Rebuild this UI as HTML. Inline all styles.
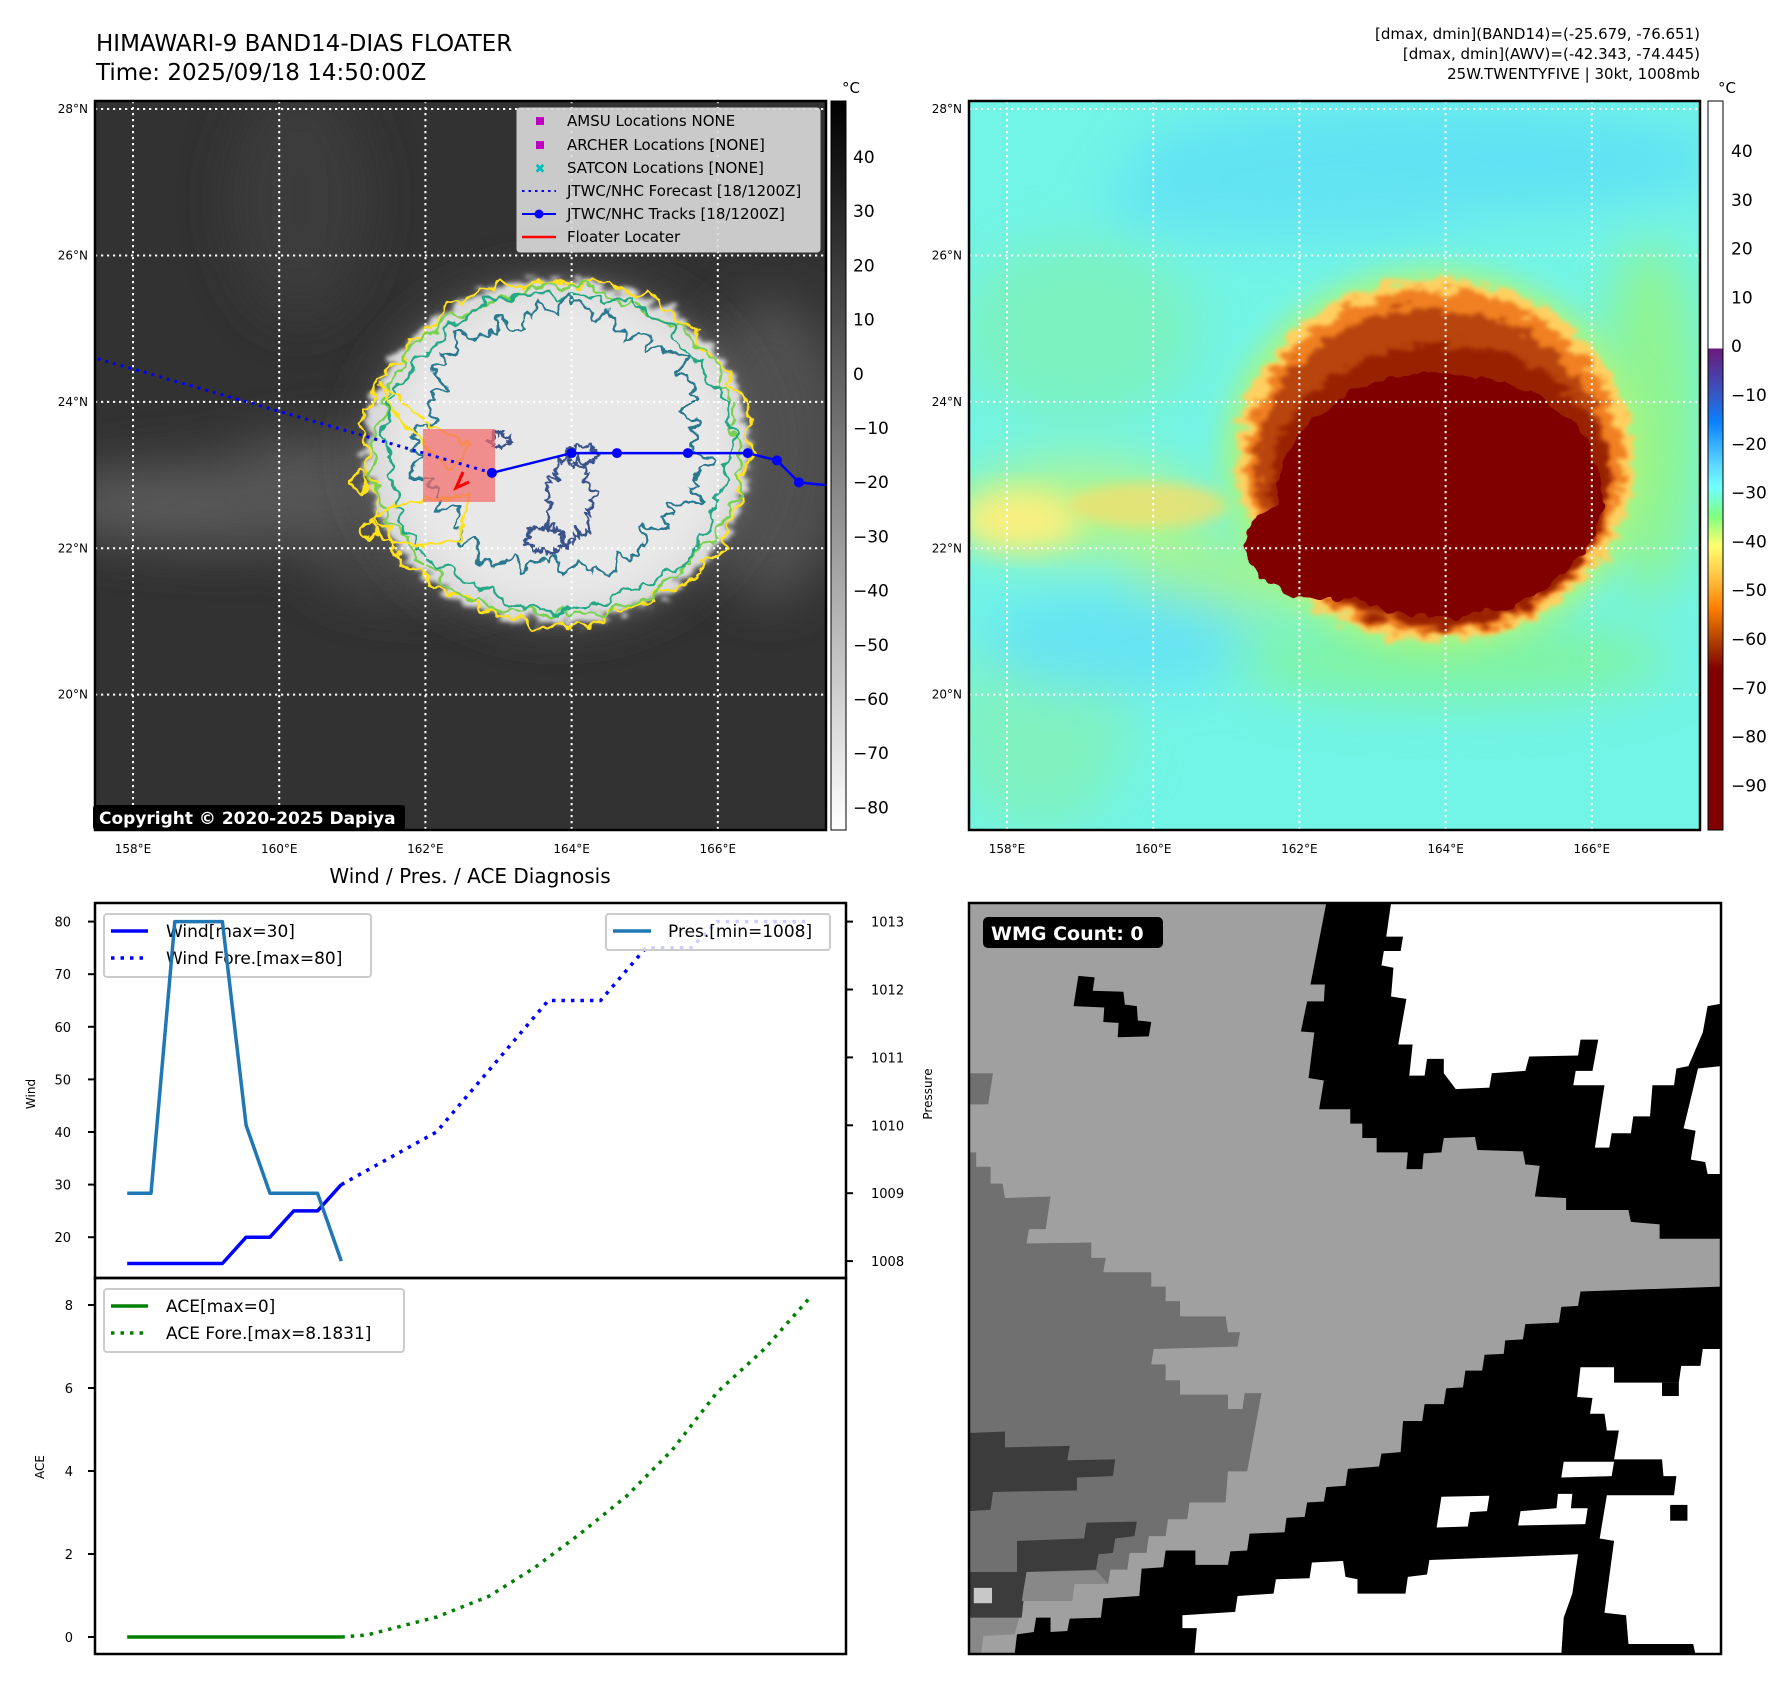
<!DOCTYPE html>
<html><head><meta charset="utf-8">
<style>
html,body{margin:0;padding:0;background:#fff;}
body{width:1788px;height:1690px;position:relative;overflow:hidden;font-family:"Liberation Sans","DejaVu Sans",sans-serif;}
svg text{font-family:"DejaVu Sans","Liberation Sans",sans-serif;}
</style></head>
<body>
<svg id="fig" width="1788" height="1690" viewBox="0 0 1788 1690" xmlns="http://www.w3.org/2000/svg">
<defs>
  <filter id="blur6" x="-20%" y="-20%" width="140%" height="140%"><feGaussianBlur stdDeviation="6"/></filter>
  <filter id="blur14" x="-30%" y="-30%" width="160%" height="160%"><feGaussianBlur stdDeviation="14"/></filter>
  <filter id="blur25" x="-40%" y="-40%" width="180%" height="180%"><feGaussianBlur stdDeviation="25"/></filter>
  <filter id="rag" x="-10%" y="-10%" width="120%" height="120%">
    <feTurbulence type="fractalNoise" baseFrequency="0.06" numOctaves="2" seed="3"/>
    <feDisplacementMap in="SourceGraphic" scale="14" xChannelSelector="R" yChannelSelector="G"/>
  </filter>
  <filter id="rag2" x="-10%" y="-10%" width="120%" height="120%">
    <feTurbulence type="fractalNoise" baseFrequency="0.09" numOctaves="2" seed="7"/>
    <feDisplacementMap in="SourceGraphic" scale="10" xChannelSelector="R" yChannelSelector="G"/>
  </filter>
  <filter id="ragblur" x="-20%" y="-20%" width="140%" height="140%">
    <feTurbulence type="fractalNoise" baseFrequency="0.05 0.12" numOctaves="3" seed="5"/>
    <feDisplacementMap in="SourceGraphic" scale="30" xChannelSelector="R" yChannelSelector="G"/>
    <feGaussianBlur stdDeviation="2"/>
  </filter>
  <linearGradient id="cb1" x1="0" y1="0" x2="0" y2="1">
    <stop offset="0" stop-color="#000"/><stop offset="1" stop-color="#fff"/>
  </linearGradient>
  <linearGradient id="cb2" x1="0" y1="0" x2="0" y2="1">
    <stop offset="0" stop-color="#fff"/><stop offset="0.3395" stop-color="#fff"/>
    <stop offset="0.3396" stop-color="#6a1a78"/>
    <stop offset="0.41" stop-color="#2f5fd0"/>
    <stop offset="0.44" stop-color="#0a80ff"/>
    <stop offset="0.50" stop-color="#60d8ff"/>
    <stop offset="0.53" stop-color="#70ffff"/>
    <stop offset="0.57" stop-color="#80ff80"/>
    <stop offset="0.61" stop-color="#ffff70"/>
    <stop offset="0.655" stop-color="#ffc040"/>
    <stop offset="0.695" stop-color="#ff8000"/>
    <stop offset="0.74" stop-color="#b04000"/>
    <stop offset="0.78" stop-color="#800000"/>
    <stop offset="1" stop-color="#800000"/>
  </linearGradient>
  <radialGradient id="halo1" cx="0.5" cy="0.5" r="0.5">
    <stop offset="0.55" stop-color="#8a8a8a"/><stop offset="1" stop-color="#333" stop-opacity="0"/>
  </radialGradient>
  <clipPath id="clipM1"><rect x="95" y="101" width="731" height="729"/></clipPath>
  <clipPath id="clipM2"><rect x="969" y="101" width="731" height="729"/></clipPath>
  <clipPath id="clipC1"><rect x="95" y="903" width="751" height="375"/></clipPath>
  <clipPath id="clipC2"><rect x="95" y="1278" width="751" height="376"/></clipPath>
  <clipPath id="clipW"><rect x="969" y="903" width="752" height="751"/></clipPath>
</defs>

<text x="96" y="51" font-size="23">HIMAWARI-9 BAND14-DIAS FLOATER</text>
<text x="96" y="80" font-size="23">Time: 2025/09/18 14:50:00Z</text>
<g font-size="15" text-anchor="end">
  <text x="1700" y="39">[dmax, dmin](BAND14)=(-25.679, -76.651)</text>
  <text x="1700" y="59">[dmax, dmin](AWV)=(-42.343, -74.445)</text>
  <text x="1700" y="79">25W.TWENTYFIVE | 30kt, 1008mb</text>
</g>

<!-- MAP 1 -->
<g clip-path="url(#clipM1)">
  <rect x="95" y="101" width="731" height="729" fill="#323232"/>
  <g filter="url(#blur25)" opacity="0.9">
    <ellipse cx="230" cy="505" rx="200" ry="42" fill="#5e5e5e"/>
    <ellipse cx="330" cy="490" rx="130" ry="55" fill="#5a5a5a"/>
    <ellipse cx="420" cy="560" rx="110" ry="40" fill="#4a4a4a"/>
    <ellipse cx="300" cy="200" rx="70" ry="120" fill="#3c3c3c"/>
    <ellipse cx="770" cy="450" rx="80" ry="150" fill="#555"/>
  </g>
  <ellipse cx="560" cy="451" rx="235" ry="210" fill="url(#halo1)" filter="url(#blur14)"/>
  <ellipse cx="557" cy="451" rx="192" ry="172" fill="#d8d8d8" filter="url(#ragblur)"/>
  <ellipse cx="560" cy="451" rx="172" ry="155" fill="#e8e8e8" filter="url(#blur14)"/>
  <g id="contours1" fill="none" stroke-width="2.4" stroke-linejoin="round"></g>
  <g id="grid1" stroke="#fff" stroke-width="2" stroke-dasharray="2.2 3.8"></g>
  <rect x="423" y="429" width="72" height="73" fill="#f26a6a" fill-opacity="0.72"/>
  <g id="track1"></g>
  <path d="M463,472 L456,488 L469,482" fill="none" stroke="#ff0000" stroke-width="3"/>
</g>
<rect x="95" y="101" width="731" height="729" fill="none" stroke="#000" stroke-width="2.5"/>
<g>
  <rect x="517" y="108" width="303" height="144" rx="3" fill="#dadada" fill-opacity="0.9" stroke="#ccc"/>
  <rect x="536" y="117" width="8" height="8" fill="#c000c0"/>
  <text x="567" y="126" font-size="15">AMSU Locations NONE</text>
  <rect x="536" y="141" width="8" height="8" fill="#c000c0"/>
  <text x="567" y="150" font-size="15">ARCHER Locations [NONE]</text>
  <text x="540" y="173" font-size="13" fill="#00bfbf" text-anchor="middle" font-weight="bold">✖</text>
  <text x="567" y="173" font-size="15">SATCON Locations [NONE]</text>
  <line x1="522" y1="191" x2="556" y2="191" stroke="#0000ff" stroke-width="2" stroke-dasharray="2.5 4"/>
  <text x="567" y="196" font-size="15">JTWC/NHC Forecast [18/1200Z]</text>
  <line x1="522" y1="214" x2="556" y2="214" stroke="#0000ff" stroke-width="2"/>
  <circle cx="539" cy="214" r="4.5" fill="#0000ff"/>
  <text x="567" y="219" font-size="15">JTWC/NHC Tracks [18/1200Z]</text>
  <line x1="522" y1="237" x2="556" y2="237" stroke="#ff0000" stroke-width="2.5"/>
  <text x="567" y="242" font-size="15">Floater Locater</text>
</g>
<g>
  <rect x="93" y="805" width="312" height="25" rx="3" fill="#000"/>
  <text x="99" y="824" font-size="17" font-weight="bold" fill="#fff">Copyright © 2020-2025 Dapiya</text>
</g>
<g id="ticks1" font-size="12"></g>
<g>
  <rect x="831" y="101" width="15" height="729" fill="url(#cb1)" stroke="#000" stroke-width="1"/>
  <text x="842" y="93" font-size="15">°C</text>
  <g id="cb1labels" font-size="17"></g>
</g>

<!-- MAP 2 -->
<g clip-path="url(#clipM2)">
  <rect x="969" y="101" width="731" height="729" fill="#72f4e6"/>
  <g filter="url(#blur25)">
    <ellipse cx="1430" cy="160" rx="300" ry="55" fill="#60e2f4"/>
    <ellipse cx="1300" cy="200" rx="200" ry="40" fill="#64e4f2"/>
    <ellipse cx="1080" cy="330" rx="120" ry="90" fill="#7cf2c0"/>
    <ellipse cx="1080" cy="510" rx="130" ry="50" fill="#b0f590"/>
    <ellipse cx="1040" cy="720" rx="90" ry="110" fill="#80f2c0"/>
    <ellipse cx="1220" cy="580" rx="90" ry="40" fill="#a0f490"/>
    <ellipse cx="1120" cy="640" rx="140" ry="50" fill="#66e4f2"/>
    <ellipse cx="1450" cy="660" rx="220" ry="40" fill="#80f4a0"/>
    <ellipse cx="1650" cy="420" rx="50" ry="180" fill="#90f490"/>
  </g>
  <ellipse cx="1020" cy="520" rx="60" ry="30" fill="#f8f080" filter="url(#blur14)"/>
  <ellipse cx="1150" cy="505" rx="80" ry="22" fill="#f0e070" filter="url(#blur6)" opacity="0.8"/>
  <ellipse cx="1435" cy="460" rx="212" ry="192" fill="#a8f580" filter="url(#blur14)"/>
  <ellipse cx="1435" cy="460" rx="198" ry="182" fill="#ffd060" filter="url(#ragblur)"/>
  <ellipse cx="1435" cy="462" rx="188" ry="172" fill="#f08020" filter="url(#ragblur)"/>
  <ellipse cx="1432" cy="468" rx="176" ry="160" fill="#b84408" filter="url(#ragblur)"/>
  <ellipse cx="1440" cy="485" rx="170" ry="140" fill="#982400" filter="url(#ragblur)"/>
  <ellipse cx="1440" cy="495" rx="162" ry="122" fill="#800000" filter="url(#rag)"/>
  <ellipse cx="1330" cy="545" rx="85" ry="55" fill="#800000" filter="url(#rag)"/>
  <g id="grid2" stroke="#fff" stroke-width="2" stroke-dasharray="2.2 3.8"></g>
</g>
<rect x="969" y="101" width="731" height="729" fill="none" stroke="#000" stroke-width="2.5"/>
<g id="ticks2" font-size="12"></g>
<g>
  <rect x="1708" y="101" width="15" height="729" fill="url(#cb2)" stroke="#000" stroke-width="1"/>
  <text x="1718" y="93" font-size="15">°C</text>
  <g id="cb2labels" font-size="17"></g>
</g>

<text x="470" y="883" font-size="20" text-anchor="middle">Wind / Pres. / ACE Diagnosis</text>
<g id="chart"></g>

<!-- WMG panel -->
<g clip-path="url(#clipW)">
  <g transform="translate(969,903) scale(0.4796)">
    <rect x="0" y="0" width="1568" height="1568" fill="#a0a0a0"/>
    <polygon fill="#707070" points="0,355 50,355 40,420 0,420"/>
    <polygon fill="#707070" points="0,520 15,520 15,550 45,550 45,585 70,585 75,615 170,612 160,680 125,680 120,710 255,708 255,740 285,740 280,770 380,770 380,800 410,800 410,830 440,830 440,862 535,862 540,895 565,895 560,925 385,930 380,962 410,962 410,995 440,995 440,1025 540,1025 540,1055 570,1055 575,1022 610,1022 580,1185 540,1185 535,1250 460,1250 455,1285 415,1285 410,1320 375,1320 370,1355 335,1355 330,1390 295,1390 290,1420 220,1420 215,1455 110,1455 105,1490 0,1490"/>
    <polygon fill="#3c3c3c" points="0,1105 75,1102 75,1135 210,1132 205,1162 305,1160 300,1195 225,1198 225,1225 50,1228 45,1265 0,1268"/>
    <polygon fill="#3c3c3c" points="100,1330 240,1325 245,1292 350,1290 345,1320 305,1325 300,1355 270,1358 265,1390 120,1395 110,1490 0,1495 0,1395 100,1395"/>
    <polygon fill="#888" points="120,1395 265,1392 290,1420 220,1420 215,1455 110,1455"/>
    <polygon fill="#888" points="0,1490 105,1490 95,1525 30,1528 25,1568 0,1568"/>
    <rect x="10" y="1428" width="38" height="32" fill="#c8c8c8"/>
    <polygon fill="#000" points="745,0 1568,0 1568,700 1440,700 1440,670 1380,665 1375,640 1245,640 1245,615 1180,612 1190,548 1160,545 1155,518 1060,515 1055,488 990,490 985,520 948,522 945,555 912,555 915,520 850,520 850,490 820,490 820,460 795,460 795,430 730,430 740,370 708,365 720,270 692,268 705,205 740,205 742,170 712,170"/>
    <polygon fill="#fff" points="880,0 1568,0 1568,210 1540,215 1530,270 1500,340 1475,345 1470,380 1425,380 1420,445 1385,445 1380,480 1340,480 1335,510 1305,510 1325,380 1260,380 1265,350 1300,350 1312,285 1275,285 1270,318 1168,320 1160,350 1090,355 1085,385 1015,388 990,355 990,325 955,325 950,360 918,360 925,295 895,295 912,200 880,195 885,135 860,130 865,100 900,100 905,70 870,70"/>
    <polygon fill="#fff" points="1520,345 1568,340 1568,565 1540,565 1535,540 1505,535 1515,475 1490,470"/>
    <polygon fill="#000" points="228,152 262,155 258,183 322,185 325,212 350,215 352,245 380,248 375,278 310,280 312,250 280,248 282,218 218,215"/>
    <polygon fill="#000" points="1568,800 1275,810 1270,840 1235,842 1230,875 1160,878 1155,910 1118,912 1115,940 1075,942 1070,975 1035,975 1030,1010 995,1012 990,1045 950,1045 945,1080 905,1080 900,1145 860,1148 855,1175 790,1180 785,1215 745,1218 740,1248 705,1250 700,1280 662,1282 658,1312 585,1315 580,1350 545,1352 540,1380 472,1380 472,1350 410,1350 405,1385 360,1388 355,1445 280,1450 275,1490 210,1492 205,1518 170,1520 170,1490 140,1490 135,1520 100,1525 95,1568 1568,1568"/>
    <polygon fill="#fff" points="1568,930 1530,930 1525,965 1485,965 1480,1000 1345,1000 1345,968 1275,968 1268,1030 1300,1032 1295,1065 1325,1065 1330,1100 1355,1100 1345,1160 1445,1160 1448,1195 1475,1195 1470,1235 1330,1235 1315,1325 1345,1330 1325,1480 1370,1485 1375,1545 1510,1545 1515,1568 1568,1568"/>
    <rect x="1445" y="1000" width="35" height="28" fill="#000"/>
    <rect x="1462" y="1255" width="36" height="33" fill="#000"/>
    <polygon fill="#fff" points="1240,1165 1345,1165 1340,1195 1235,1198"/>
    <polygon fill="#fff" points="985,1238 1085,1236 1080,1268 1045,1270 1040,1300 975,1302"/>
    <polygon fill="#fff" points="1150,1268 1225,1262 1228,1232 1258,1232 1255,1262 1290,1262 1285,1295 1145,1298"/>
    <polygon fill="#fff" points="445,1485 555,1478 560,1445 635,1440 640,1410 710,1408 715,1375 780,1372 785,1405 810,1410 810,1440 910,1440 915,1405 955,1400 960,1370 1270,1358 1258,1440 1240,1490 1235,1568 470,1568 475,1512 445,1512"/>
  </g>
</g>
<rect x="969" y="903" width="752" height="751" fill="none" stroke="#000" stroke-width="2.5"/>
<g>
  <rect x="983" y="917" width="180" height="31" rx="5" fill="#000"/>
  <text x="991" y="940" font-size="19" font-weight="bold" fill="#fff">WMG Count: 0</text>
</g>
</svg>

<script>
const obsIdx = [0,1,2,3,4,5,6,7,8,9];
const windObs = [15,15,15,15,15,20,20,25,25,30];
const presObs = [1009,1009,1013,1013,1013,1010,1009,1009,1009,1008];
const foreIdx = [9,13,17.7,19.9,21.8,23.7,24.8,28.5];
const windFore = [30,40,65,65,75,75,80,80];
const aceObs = [0,0,0,0,0,0,0,0,0,0];
const aceForeIdx = [9,10.1,13,15.2,17.1,19,21,22.9,24.8,26.8,28.7];
const aceFore = [0,0.05,0.48,0.98,1.66,2.47,3.4,4.5,5.9,6.95,8.18];
const windTicks = [20,30,40,50,60,70,80];
const presTicks = [1008,1009,1010,1011,1012,1013];
const aceTicks = [0,2,4,6,8];
const latTicks = [20,22,24,26,28];
const lonTicks = [158,160,162,164,166];
const trackLon = [162.91,164.0,164.62,165.59,166.41,166.81,167.11,167.6];
const trackLat = [23.03,23.3,23.3,23.3,23.3,23.2,22.9,22.85];
const foreLon = [157.2,162.91];
const foreLat = [24.68,23.03];
const cb1Ticks = [40,30,20,10,0,-10,-20,-30,-40,-50,-60,-70,-80];
const cb2Ticks = [40,30,20,10,0,-10,-20,-30,-40,-50,-60,-70,-80,-90];

const NS='http://www.w3.org/2000/svg';
function mk(tag, attrs, parent){const e=document.createElementNS(NS,tag);for(const k in attrs)e.setAttribute(k,attrs[k]);if(parent)parent.appendChild(e);return e;}

const xIdx = i => 127.2 + i*23.79;
const yWind = w => 921.6 + (80-w)*5.26;
const yPres = p => 921.6 + (1013-p)*67.9;
const yAce = a => 1637 + (0-a)*41.5;
const xLon = (lon, off) => 95 + off + (lon-157.48)*73.1;
const yLat = lat => 101 + (28.11-lat)*73.2;
const yCb1 = v => 157 + (40-v)*5.42;
const yCb2 = v => 151 + (40-v)*4.88;

function drawGrid(gid, tid, off){
  const g=document.getElementById(gid), t=document.getElementById(tid);
  latTicks.forEach(lat=>{
    const y=yLat(lat);
    const l=mk('line',{x1:95+off,x2:830+off,y1:y,y2:y},g);
    
    
    const tx=mk('text',{x:88+off,y:y+4,'text-anchor':'end'},t);
    tx.textContent=lat+'°N';
    
    
  });
  lonTicks.forEach(lon=>{
    const x=xLon(lon,off);
    const l=mk('line',{x1:x,x2:x,y1:101,y2:830},g);
    
    
    const tx=mk('text',{x:x,y:853,'text-anchor':'middle'},t);
    tx.textContent=lon+'°E';
    
    
  });
}
drawGrid('grid1','ticks1',0);
drawGrid('grid2','ticks2',874);

function cbLabels(gid, ticks, x, yf){
  const g=document.getElementById(gid);
  ticks.forEach(v=>{
    const t=mk('text',{x:x,y:yf(v)+6},g);
    t.textContent=(v<0?'\u2212'+(-v):''+v);
    
    
  });
}
cbLabels('cb1labels',cb1Ticks,853,yCb1);
cbLabels('cb2labels',cb2Ticks,1731,yCb2);

(function(){
  const g=document.getElementById('contours1');
  function ring(cx,cy,rx,ry,amp,seed,n){
    let d='';
    for(let k=0;k<=n;k++){
      const a=k/n*Math.PI*2;
      const r=1+amp*(Math.sin(a*23+seed)*0.5+Math.sin(a*41+seed*2)*0.35+Math.sin(a*7+seed*3)*0.6+Math.sin(a*67+seed)*0.3);
      const x=cx+rx*r*Math.cos(a), y=cy+ry*r*Math.sin(a);
      d+=(k?'L':'M')+x.toFixed(1)+','+y.toFixed(1);
    }
    return d+'Z';
  }
  const specs=[
    ['#ffe01a',557,452,192,172,0.035,1,'contour-yellow'],
    ['#7ad151',557,452,183,164,0.03,2,'contour-green'],
    ['#22a884',558,450,172,158,0.035,3,'contour-teal'],
  ];
  specs.forEach(s=>{
    const p=mk('path',{d:ring(s[1],s[2],s[3],s[4],s[5],s[6],240),stroke:s[0],filter:'url(#rag2)'},g);
    
    
  });
  const inner=mk('path',{d:ring(560,440,140,130,0.09,4,300),stroke:'#2a788e',filter:'url(#rag2)'},g);
  
  
  const blobs=[[570,500,22,40],[545,540,18,12],[582,455,14,10],[500,440,10,8]];
  blobs.forEach((b,i)=>{
    const p=mk('path',{d:ring(b[0],b[1],b[2],b[3],0.2,i+5,80),stroke:'#3b528b',filter:'url(#rag2)'},g);
    
    
  });
  const tails=['M470,445 L430,425 L395,395 L380,385 L392,410 L420,440 L450,470 Z',
               'M470,495 L430,500 L395,505 L370,520 L385,540 L420,545 L460,540 Z',
               'M360,495 L350,482 L358,470 L368,485 Z','M370,540 L360,530 L372,520 L378,535 Z'];
  tails.forEach(d=>{
    const p=mk('path',{d:d,stroke:'#ffe01a',filter:'url(#rag2)'},g);
    
    
  });
})();

(function(){
  const g=document.getElementById('track1');
  let fd='';
  foreLon.forEach((lo,i)=>{fd+=(i?'L':'M')+xLon(lo,0)+','+yLat(foreLat[i]);});
  const f=mk('path',{d:fd,fill:'none',stroke:'#0000ff','stroke-width':3,'stroke-dasharray':'3 5'},g);
  
  
  let td='';
  trackLon.forEach((lo,i)=>{td+=(i?'L':'M')+xLon(lo,0)+','+yLat(trackLat[i]);});
  const t=mk('path',{d:td,fill:'none',stroke:'#0000ff','stroke-width':2.5},g);
  
  
  trackLon.forEach((lo,i)=>{
    const c=mk('circle',{cx:xLon(lo,0),cy:yLat(trackLat[i]),r:5,fill:'#0000ff'},g);
    
    
  });
})();

(function(){
  const g=document.getElementById('chart');
  const up=mk('g',{'clip-path':'url(#clipC1)'},g);
  const lo=mk('g',{'clip-path':'url(#clipC2)'},g);
  function poly(par,xs,ys,fx,fy,attrs,name){
    let d='';xs.forEach((x,i)=>{d+=(i?'L':'M')+fx(x).toFixed(1)+','+fy(ys[i]).toFixed(1);});
    const p=mk('path',Object.assign({d:d,fill:'none'},attrs),par);
    
    
    return p;
  }
  poly(up,obsIdx,windObs,xIdx,yWind,{stroke:'#0000ff','stroke-width':3.5,'stroke-linejoin':'round'},'wind-line');
  poly(up,foreIdx,windFore,xIdx,yWind,{stroke:'#0000ff','stroke-width':3.5,'stroke-dasharray':'3.5 6'},'wind-forecast-line');
  const wl=mk('g',{},up);
  
  
  mk('rect',{x:104,y:914,width:267,height:63,rx:3,fill:'#fff','fill-opacity':0.8,stroke:'#ccc','stroke-width':2},wl);
  mk('line',{x1:111,x2:148,y1:931,y2:931,stroke:'#0000ff','stroke-width':3.5},wl);
  mk('line',{x1:111,x2:148,y1:958,y2:958,stroke:'#0000ff','stroke-width':3.5,'stroke-dasharray':'3.5 6'},wl);
  let t=mk('text',{x:166,y:937,'font-size':17},wl);t.textContent='Wind[max=30]';
  t=mk('text',{x:166,y:964,'font-size':17},wl);t.textContent='Wind Fore.[max=80]';
  poly(up,obsIdx,presObs,xIdx,yPres,{stroke:'#1f77b4','stroke-width':3.5,'stroke-linejoin':'round'},'pressure-line');
  const pl=mk('g',{},up);
  
  
  mk('rect',{x:606,y:914,width:224,height:36,rx:3,fill:'#fff','fill-opacity':0.8,stroke:'#ccc','stroke-width':2},pl);
  mk('line',{x1:613,x2:651,y1:931,y2:931,stroke:'#1f77b4','stroke-width':3.5},pl);
  t=mk('text',{x:668,y:937,'font-size':17},pl);t.textContent='Pres.[min=1008]';
  poly(lo,obsIdx,aceObs,xIdx,yAce,{stroke:'#008000','stroke-width':3.5},'ace-line');
  poly(lo,aceForeIdx,aceFore,xIdx,yAce,{stroke:'#008000','stroke-width':3.5,'stroke-dasharray':'3.5 6'},'ace-forecast-line');
  const al=mk('g',{},lo);
  
  
  mk('rect',{x:104,y:1289,width:300,height:63,rx:3,fill:'#fff','fill-opacity':0.8,stroke:'#ccc','stroke-width':2},al);
  mk('line',{x1:111,x2:148,y1:1306,y2:1306,stroke:'#008000','stroke-width':3.5},al);
  mk('line',{x1:111,x2:148,y1:1333,y2:1333,stroke:'#008000','stroke-width':3.5,'stroke-dasharray':'3.5 6'},al);
  t=mk('text',{x:166,y:1312,'font-size':17},al);t.textContent='ACE[max=0]';
  t=mk('text',{x:166,y:1339,'font-size':17},al);t.textContent='ACE Fore.[max=8.1831]';
  mk('rect',{x:95,y:903,width:751,height:375,fill:'none',stroke:'#000','stroke-width':2.5},g);
  mk('rect',{x:95,y:1278,width:751,height:376,fill:'none',stroke:'#000','stroke-width':2.5},g);
  windTicks.forEach(v=>{
    const y=yWind(v);
    mk('line',{x1:88,x2:95,y1:y,y2:y,stroke:'#000','stroke-width':2},g);
    const tt=mk('text',{x:71,y:y+5,'font-size':13,'text-anchor':'end'},g);tt.textContent=v;
    
    
  });
  presTicks.forEach(v=>{
    const y=yPres(v);
    mk('line',{x1:846,x2:853,y1:y,y2:y,stroke:'#000','stroke-width':2},g);
    const tt=mk('text',{x:871,y:y+5,'font-size':13},g);tt.textContent=v;
    
    
  });
  aceTicks.forEach(v=>{
    const y=yAce(v);
    mk('line',{x1:88,x2:95,y1:y,y2:y,stroke:'#000','stroke-width':2},g);
    const tt=mk('text',{x:73,y:y+5,'font-size':13,'text-anchor':'end'},g);tt.textContent=v;
    
    
  });
  let a=mk('text',{x:0,y:0,'font-size':12,'text-anchor':'middle',transform:'translate(35,1094) rotate(-90)'},g);a.textContent='Wind';
  
  
  a=mk('text',{x:0,y:0,'font-size':12,'text-anchor':'middle',transform:'translate(932,1094) rotate(-90)'},g);a.textContent='Pressure';
  
  
  a=mk('text',{x:0,y:0,'font-size':12,'text-anchor':'middle',transform:'translate(44,1467) rotate(-90)'},g);a.textContent='ACE';
  
  
})();
</script>
</body></html>
